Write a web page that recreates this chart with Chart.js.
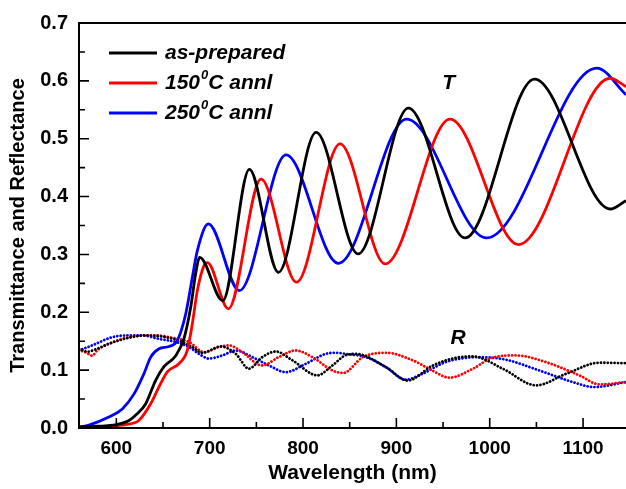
<!DOCTYPE html>
<html><head><meta charset="utf-8">
<script src="https://cdn.jsdelivr.net/npm/chart.js@4.4.1/dist/chart.umd.min.js"></script>
<style>html,body{margin:0;padding:0;background:#fff;}canvas{display:block;}</style>
</head><body>
<canvas id="c" width="626" height="489"></canvas>
<script>
// ---------- data ----------
const seriesLabels = ['as-prepared', '150^0C annl', '250^0C annl'];
const seriesColors = ['#000000', '#ff0000', '#0000ff'];

// Transmittance (solid)
const wlTBlack = [560,580,600,613.6,622,631.5,642,651,663.6,672.5,679.7,685,689.3,714,742.5,773.6,814,859,912.9,973.6,1048,1129,1146];
const tBlack   = [0.002,0.003,0.006,0.013,0.024,0.042,0.082,0.106,0.125,0.155,0.209,0.267,0.295,0.220,0.447,0.269,0.511,0.301,0.553,0.3285,0.603,0.3785,0.393];

const wlTRed = [560,590,610,624,636.8,645.7,654.6,667,676,681.4,686.8,694,697.5,720,755,793,839.6,888,957.5,1030.7,1129,1146];
const tRed   = [0.001,0.003,0.006,0.013,0.042,0.071,0.097,0.111,0.134,0.180,0.2376,0.281,0.286,0.206,0.430,0.252,0.491,0.2836,0.534,0.317,0.6045,0.59];

const wlTBlue = [560,570.7,592,606.4,619,629.6,636.8,645.7,656.4,665.3,674.3,681.4,686.8,698.6,731.8,781.8,837.9,911,996.7,1114.7,1146];
const tBlue   = [0.001,0.005,0.019,0.033,0.059,0.094,0.1225,0.137,0.141,0.151,0.197,0.260,0.3066,0.3527,0.2376,0.472,0.2847,0.534,0.3285,0.622,0.576];

// Reflectance (dotted)
const wlRBlack = [560,569,578,592,613.6,631.5,649,667,681.4,692,712,728,742,756.4,770.7,788.6,815.4,831.4,846,857,889,912,939,964,982,1014,1049.7,1082,1117.5,1146];
const rBlack   = [0.137,0.132,0.136,0.1456,0.156,0.160,0.158,0.151,0.1398,0.130,0.141,0.128,0.1025,0.1225,0.1323,0.117,0.091,0.108,0.126,0.128,0.105,0.082,0.108,0.1215,0.1237,0.1025,0.0737,0.0938,0.1128,0.112];

const wlRRed = [560,568,574,580,595.7,613.6,631.5,642,660,678,694,710,720.7,735,756,774,792,810,831.4,843,864,889,917.5,935,957,982,1003,1028,1060,1096,1117.5,1146];
const rRed   = [0.135,0.130,0.125,0.135,0.148,0.157,0.160,0.160,0.156,0.1485,0.131,0.140,0.1427,0.131,0.108,0.1225,0.134,0.1225,0.0995,0.095,0.1225,0.130,0.117,0.1025,0.087,0.1025,0.1215,0.1254,0.114,0.091,0.0754,0.0794];

const wlRBlue = [560,574,595.7,613.6,628,645.7,665,678,688.6,699,713.5,728,745.7,763.6,781.5,803,824,836,846,867.5,889,910,928,953,989,1017.5,1053,1089,1112,1146];
const rBlue   = [0.134,0.1427,0.157,0.160,0.160,0.154,0.148,0.1398,0.128,0.120,0.1254,0.134,0.1225,0.108,0.0966,0.111,0.128,0.130,0.128,0.1225,0.105,0.0835,0.0938,0.114,0.1225,0.118,0.0995,0.0794,0.0707,0.0794];

const xMajorTicks = [600,700,800,900,1000,1100];
const xMinorTicks = [650,750,850,950,1050];
const yMajorTicks = [0,0.1,0.2,0.3,0.4,0.5,0.6,0.7];
const yMinorTicks = [0.05,0.15,0.25,0.35,0.45,0.55,0.65];

const curveLabels = [{text:'T', x:956, y:0.596}, {text:'R', x:966, y:0.155}];

// ---------- chart ----------
const FONT = "'Liberation Sans', Arial, sans-serif";
const pts = (xs, ys) => xs.map((x, i) => ({x: x, y: ys[i]}));

const tSets = [[wlTBlack,tBlack],[wlTRed,tRed],[wlTBlue,tBlue]];
const rSets = [[wlRBlack,rBlack],[wlRRed,rRed],[wlRBlue,rBlue]];

const datasets = [];
tSets.forEach((s, i) => datasets.push({
  label: seriesLabels[i], data: pts(s[0], s[1]), borderColor: seriesColors[i],
  borderWidth: 2.8, pointRadius: 0, cubicInterpolationMode: 'monotone', fill: false
}));
rSets.forEach((s, i) => datasets.push({
  label: seriesLabels[i] + ' R', data: pts(s[0], s[1]), borderColor: seriesColors[i],
  borderWidth: 2.8, borderDash: [0.01, 3.4], borderCapStyle: 'round',
  pointRadius: 0, cubicInterpolationMode: 'monotone', fill: false
}));

const framePlugin = {
  id: 'frame',
  afterDraw(chart) {
    const {ctx, chartArea: a, scales: {x, y}} = chart;
    ctx.save();
    ctx.strokeStyle = '#000';
    ctx.lineWidth = 2;
    ctx.lineCap = 'butt';
    ctx.beginPath();
    ctx.moveTo(a.left, a.top); ctx.lineTo(a.right, a.top);
    ctx.moveTo(a.left, a.top - 1); ctx.lineTo(a.left, a.bottom + 1);
    ctx.moveTo(a.left, a.bottom); ctx.lineTo(a.right, a.bottom);
    ctx.stroke();
    ctx.lineWidth = 1.6;
    ctx.beginPath();
    xMajorTicks.forEach(v => { const p = x.getPixelForValue(v); ctx.moveTo(p, a.bottom); ctx.lineTo(p, a.bottom - 10); });
    xMinorTicks.forEach(v => { const p = x.getPixelForValue(v); ctx.moveTo(p, a.bottom); ctx.lineTo(p, a.bottom - 6); });
    yMajorTicks.forEach(v => { const p = y.getPixelForValue(v); ctx.moveTo(a.left, p); ctx.lineTo(a.left + 10, p); });
    yMinorTicks.forEach(v => { const p = y.getPixelForValue(v); ctx.moveTo(a.left, p); ctx.lineTo(a.left + 6, p); });
    ctx.stroke();

    // legend
    ctx.textBaseline = 'middle';
    ctx.textAlign = 'left';
    seriesLabels.forEach((lab, i) => {
      const yy = a.top + 30 + i * 30;
      const x0 = a.left + 30;
      ctx.strokeStyle = seriesColors[i];
      ctx.lineWidth = 2.8;
      ctx.beginPath(); ctx.moveTo(x0, yy); ctx.lineTo(x0 + 48, yy); ctx.stroke();
      ctx.fillStyle = '#000';
      let tx = x0 + 56;
      const parts = lab.split('^');
      ctx.font = "italic bold 21px " + FONT;
      ctx.fillText(parts[0], tx, yy);
      tx += ctx.measureText(parts[0]).width;
      if (parts.length > 1) {
        const sup = parts[1].charAt(0), rest = parts[1].slice(1);
        ctx.font = "italic bold 13px " + FONT;
        ctx.fillText(sup, tx + 1, yy - 8);
        tx += ctx.measureText(sup).width + 1;
        ctx.font = "italic bold 21px " + FONT;
        ctx.fillText(rest, tx, yy);
      }
    });
    // curve labels
    ctx.font = "italic bold 21px " + FONT;
    ctx.textAlign = 'center';
    curveLabels.forEach(c => ctx.fillText(c.text, x.getPixelForValue(c.x), y.getPixelForValue(c.y)));
    ctx.restore();
  }
};

new Chart(document.getElementById('c'), {
  type: 'line',
  data: { datasets },
  options: {
    responsive: false, animation: false, events: [],
    layout: { padding: { top: 22, right: 0, bottom: 0, left: 0 } },
    plugins: { legend: { display: false }, tooltip: { enabled: false } },
    scales: {
      x: {
        type: 'linear', min: 560, max: 1146,
        afterFit(s) { s.height = 61; },
        afterBuildTicks(s) { s.ticks = xMajorTicks.map(v => ({value: v})); },
        grid: { display: false, drawTicks: false }, border: { display: false },
        ticks: { padding: 9, color: '#000', font: { family: FONT, size: 19, weight: 'bold' }, maxRotation: 0, callback: v => String(v) },
        title: { display: true, text: 'Wavelength (nm)', color: '#000', font: { family: FONT, size: 21, weight: 'bold' }, padding: { top: 0, bottom: 3 } }
      },
      y: {
        type: 'linear', min: 0, max: 0.7,
        afterFit(s) { s.width = 79; },
        afterBuildTicks(s) { s.ticks = yMajorTicks.map(v => ({value: v})); },
        grid: { display: false, drawTicks: false }, border: { display: false },
        ticks: { padding: 11, color: '#000', font: { family: FONT, size: 20, weight: 'bold' }, callback: v => v.toFixed(1) },
        title: { display: true, text: 'Transmittance and Reflectance', color: '#000', font: { family: FONT, size: 20, weight: 'bold' }, padding: { top: 6, bottom: 0 } }
      }
    }
  },
  plugins: [framePlugin]
});
</script>
</body></html>
